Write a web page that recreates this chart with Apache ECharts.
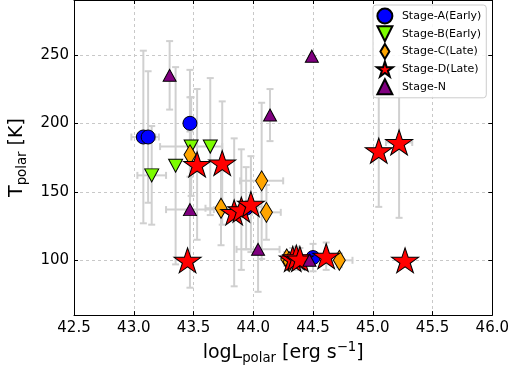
<!DOCTYPE html>
<html>
<head>
<meta charset="utf-8">
<script src="https://cdn.jsdelivr.net/npm/echarts@6/dist/echarts.min.js"></script>
<style>html,body{margin:0;padding:0;background:#fff;}#c{width:512px;height:370px;}</style>
</head>
<body>
<div id="c"></div>
<script>
// ---- data ----
const xTicks = [42.5, 43.0, 43.5, 44.0, 44.5, 45.0, 45.5, 46.0];
const yTicks = [100, 150, 200, 250];

const stageA_x = [43.08, 43.12, 43.47, 43.94, 44.50];
const stageA_y = [190, 190, 200, 138, 102];
const stageA_xerr = [0.10, 0.09, 0, 0.08, 0.05];
const stageA_yerr = [63, 48, 39, 30, 10];

const stageB_x = [43.15, 43.35, 43.48, 43.64];
const stageB_y = [162, 169, 183, 183];
const stageB_xerr = [0.12, 0, 0.26, 0];
const stageB_yerr = [36, 72, 36, 50];

const stageC_x = [43.47, 43.73, 44.07, 44.11, 44.28, 44.30, 44.72];
const stageC_y = [177, 138, 158, 135, 101, 99, 100];
const stageC_xerr = [0, 0.13, 0.18, 0.12, 0, 0, 0.11];
const stageC_yerr = [42, 27, 57, 20, 5, 5, 5];

const stageD_x = [43.45, 43.53, 43.74, 43.84, 43.90, 43.98, 44.33, 44.36, 44.39, 44.61, 45.05, 45.22, 45.27];
const stageD_y = [100, 170, 171, 135, 137, 141, 101, 102, 101, 103, 180, 186, 100];
const stageD_xerr = [0, 0, 0, 0, 0, 0, 0, 0, 0, 0, 0, 0.11, 0];
const stageD_yerr = [0, 55, 45, 54, 44, 35, 8, 8, 8, 10, 41, 55, 0];

const stageN_x = [43.30, 44.14, 44.49, 43.47, 44.04, 44.47];
const stageN_y = [235, 206, 249, 137, 108, 100];
const stageN_xerr = [0, 0, 0, 0.2, 0.18, 0];
const stageN_yerr = [25, 19, 0, 57, 31, 0];

const names = ['Stage-A(Early)', 'Stage-B(Early)', 'Stage-C(Late)', 'Stage-D(Late)', 'Stage-N'];

// ---- build ----
const stages = [
  {x: stageA_x, y: stageA_y, xe: stageA_xerr, ye: stageA_yerr},
  {x: stageB_x, y: stageB_y, xe: stageB_xerr, ye: stageB_yerr},
  {x: stageC_x, y: stageC_y, xe: stageC_xerr, ye: stageC_yerr},
  {x: stageD_x, y: stageD_y, xe: stageD_xerr, ye: stageD_yerr},
  {x: stageN_x, y: stageN_y, xe: stageN_xerr, ye: stageN_yerr}
];
const errData = [];
stages.forEach(s => s.x.forEach((v, i) => errData.push([v, s.y[i], s.xe[i], s.ye[i]])));
const pts = s => s.x.map((v, i) => [v, s.y[i]]);

const STAR = 'path://M50,0 L61.23,34.55 L97.55,34.55 L68.16,55.9 L79.39,90.45 L50,69.1 L20.61,90.45 L31.84,55.9 L2.45,34.55 L38.77,34.55 Z';
const TRI_UP = 'path://M50,0 L100,100 L0,100 Z';
const TRI_DOWN = 'path://M0,0 L100,0 L50,100 Z';
const DIAMOND = 'path://M30,0 L60,50 L30,100 L0,50 Z';
const FONT = 'DejaVu Sans';
const mk = c => ({color: c, borderColor: '#000', borderWidth: 1, opacity: 1});

const errStyle = {stroke: '#d0d0d0', lineWidth: 2};
function renderErr(params, api) {
  const x = api.value(0), y = api.value(1), xe = api.value(2), ye = api.value(3);
  const ch = [];
  const cap = 3.5;
  if (ye > 0) {
    const a = api.coord([x, y + ye]), b = api.coord([x, y - ye]);
    ch.push({type: 'line', shape: {x1: a[0], y1: a[1], x2: b[0], y2: b[1]}, style: errStyle});
    ch.push({type: 'line', shape: {x1: a[0] - cap, y1: a[1], x2: a[0] + cap, y2: a[1]}, style: errStyle});
    ch.push({type: 'line', shape: {x1: b[0] - cap, y1: b[1], x2: b[0] + cap, y2: b[1]}, style: errStyle});
  }
  if (xe > 0) {
    const a = api.coord([x - xe, y]), b = api.coord([x + xe, y]);
    ch.push({type: 'line', shape: {x1: a[0], y1: a[1], x2: b[0], y2: b[1]}, style: errStyle});
    ch.push({type: 'line', shape: {x1: a[0], y1: a[1] - cap, x2: a[0], y2: a[1] + cap}, style: errStyle});
    ch.push({type: 'line', shape: {x1: b[0], y1: b[1] - cap, x2: b[0], y2: b[1] + cap}, style: errStyle});
  }
  return {type: 'group', children: ch};
}

const gridLine = {show: true, lineStyle: {color: '#c8c8c8', type: [3, 3], width: 1}};
const tick = {show: true, inside: true, length: 4, lineStyle: {color: '#000'}};
const axLine = {show: true, onZero: false, lineStyle: {color: '#000', width: 1}};

const chart = echarts.init(document.getElementById('c'), null, {renderer: 'canvas'});
chart.setOption({
  animation: false,
  backgroundColor: '#fff',
  textStyle: {fontFamily: FONT},
  grid: {left: 67, right: 17, top: 0, bottom: 51},
  legend: {
    data: [
      {name: names[0], icon: 'circle'},
      {name: names[1], icon: TRI_DOWN},
      {name: names[2], icon: DIAMOND},
      {name: names[3], icon: STAR},
      {name: names[4], icon: TRI_UP}
    ],
    orient: 'vertical',
    left: 373, top: 5,
    padding: [2.5, 5, 2.5, 3],
    itemWidth: 24, itemHeight: 15, itemGap: 0.7, itemTextGap: 7,
    symbolKeepAspect: true,
    backgroundColor: 'rgba(255,255,255,0.85)',
    borderColor: '#cccccc', borderWidth: 1, borderRadius: 3,
    textStyle: {fontFamily: FONT, fontSize: 11, color: '#000'}
  },
  xAxis: [{
    type: 'value', min: 42.5, max: 46.0, interval: 0.5,
    axisLine: axLine, axisTick: tick, splitLine: gridLine,
    axisLabel: {margin: 6, fontSize: 15, color: '#000', fontFamily: FONT, formatter: v => v.toFixed(1)},
    name: '{n|logL}{s|polar}{n| [erg s}{p|−1}{n|]}',
    nameLocation: 'middle', nameGap: 24,
    nameTextStyle: {
      fontFamily: FONT, color: '#000',
      rich: {
        n: {fontSize: 19, fontFamily: FONT, color: '#000', lineHeight: 24, verticalAlign: 'middle'},
        s: {fontSize: 13.3, fontFamily: FONT, color: '#000', lineHeight: 14, verticalAlign: 'bottom'},
        p: {fontSize: 13.3, fontFamily: FONT, color: '#000', lineHeight: 14, verticalAlign: 'top'}
      }
    }
  }, {
    type: 'value', position: 'top', min: 42.5, max: 46.0, interval: 0.5,
    axisLine: axLine, axisTick: tick, axisLabel: {show: false}, splitLine: {show: false}
  }],
  yAxis: [{
    type: 'value', min: 60, max: 290,
    axisLine: axLine,
    axisTick: Object.assign({customValues: yTicks}, tick),
    splitLine: gridLine,
    axisLabel: {customValues: yTicks, margin: 5, fontSize: 15, color: '#000', fontFamily: FONT},
    name: '{n|T}{s|polar}{n| [K]}',
    nameLocation: 'middle', nameGap: 41,
    nameTextStyle: {
      fontFamily: FONT, color: '#000',
      rich: {
        n: {fontSize: 19, fontFamily: FONT, color: '#000', lineHeight: 24, verticalAlign: 'middle'},
        s: {fontSize: 13.3, fontFamily: FONT, color: '#000', lineHeight: 14, verticalAlign: 'bottom'}
      }
    }
  }, {
    type: 'value', position: 'right', min: 60, max: 290,
    axisLine: axLine,
    axisTick: Object.assign({customValues: yTicks}, tick),
    axisLabel: {show: false, customValues: yTicks}, splitLine: {show: false}
  }],
  series: [
    {type: 'custom', renderItem: renderErr, data: errData, encode: {x: 0, y: 1}, clip: true, z: 1, silent: true},
    {name: names[0], type: 'scatter', data: pts(stages[0]), symbol: 'circle', symbolSize: 14,
     itemStyle: mk('#0000ff'), z: 2},
    {name: names[1], type: 'scatter', data: pts(stages[1]), symbol: TRI_DOWN, symbolSize: [14, 13],
     itemStyle: mk('#7cfc00'), z: 3},
    {name: names[2], type: 'scatter', data: pts(stages[2]), symbol: DIAMOND, symbolSize: [12, 20],
     itemStyle: mk('#ffa500'), z: 4},
    {name: names[3], type: 'scatter', data: pts(stages[3]), symbol: STAR, symbolSize: [27, 25],
     itemStyle: mk('#ff0000'), z: 5},
    {name: names[4], type: 'scatter', data: pts(stages[4]), symbol: TRI_UP, symbolSize: [13, 12],
     itemStyle: mk('#800080'), z: 6}
  ]
});
</script>
</body>
</html>
